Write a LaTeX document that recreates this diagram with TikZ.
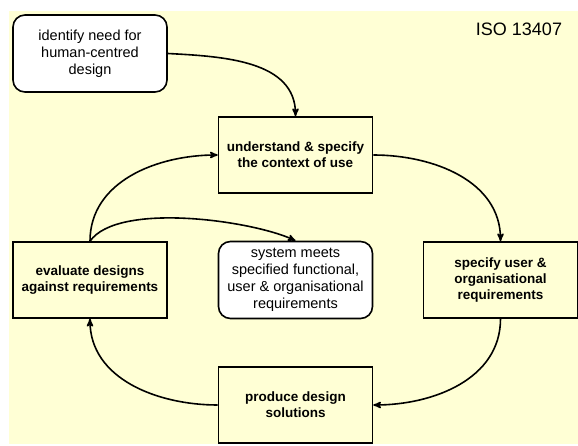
\documentclass[tikz,border=0pt]{standalone}
\usepackage{fontspec}
\setmainfont{Liberation Sans}
\usepackage{tikz}
\usetikzlibrary{arrows}
\definecolor{paleyellow}{RGB}{255,255,213}

\begin{document}
\begin{tikzpicture}
	[x=1pt,y=1pt,>=stealth',
	 stagebox/.style={draw,line width=1.6pt,fill=paleyellow,minimum width=154pt,minimum height=76pt,
	   inner sep=0pt,align=center,font=\fontsize{13.5}{16}\selectfont\bfseries},
	 goalbox/.style={draw,line width=1.6pt,fill=white,rounded corners=12pt,minimum width=154pt,
	   minimum height=77pt,inner sep=0pt,align=center,font=\fontsize{14.5}{17}\selectfont},
	 cycle/.style={->,line width=1.6pt}]
\useasboundingbox (0,0) rectangle (578,445);
\fill[paleyellow] (9,1) rectangle (578,434);
% the process cycle
\node[stagebox] (context) at (295.5,290) {understand \& specify\\the context of use};
\node[stagebox] (reqs) at (500.5,165) {specify user \&\\organisational\\requirements};
\node[stagebox] (design) at (295.5,40) {produce design\\solutions};
\node[stagebox] (evaluate) at (90,165) {evaluate designs\\against requirements};
\node[goalbox] (need) at (90,391.5) {identify need for\\human-centred\\design};
\node[goalbox] (meets) at (295.5,165) {system meets\\specified functional,\\user \& organisational\\requirements};
\node (iso) at (519,416) {\fontsize{18}{20}\selectfont ISO 13407};
\draw[cycle] (need.east) to[out=-3,in=90] (context.north);
\draw[cycle] (context.east) to[out=0,in=90] (reqs.north);
\draw[cycle] (reqs.south) to[out=-90,in=0] (design.east);
\draw[cycle] (design.west) to[out=180,in=-90] (evaluate.south);
\draw[cycle] (evaluate.north) to[out=90,in=180] (context.west);
\draw[cycle] (evaluate.north) to[out=55,in=155,looseness=0.6] (meets.north);
\end{tikzpicture}
\end{document}
